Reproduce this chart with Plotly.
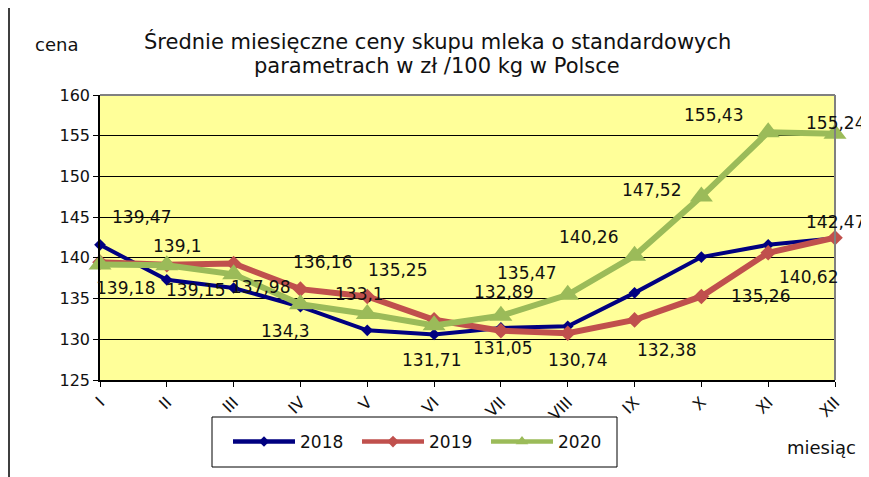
import plotly.graph_objects as go

months = ["I", "II", "III", "IV", "V", "VI", "VII", "VIII", "IX", "X", "XI", "XII"]
y2018 = [141.6, 137.3, 136.3, 134.0, 131.1, 130.6, 131.4, 131.6, 135.7, 140.1, 141.6, 142.4]
y2019 = [139.47, 139.15, 139.3, 136.16, 135.25, 132.4, 131.05, 130.74, 132.38, 135.26, 140.62, 142.47]
y2020 = [139.18, 139.1, 137.98, 134.3, 133.1, 131.71, 132.89, 135.47, 140.26, 147.52, 155.43, 155.24]
show2019 = [True, True, False, True, True, False, True, True, True, True, True, True]
show2020 = [True] * 12
y_ticks = [125, 130, 135, 140, 145, 150, 155, 160]
series_names = ["2018", "2019", "2020"]

# label offsets (px): (xshift, yshift)
off2019 = [(41, 45), (29, -25), (0, 0), (22, 27), (30, 27), (0, 0), (2, -17), (10, -27),
           (32, -30), (59, 0), (40, -24), (0, 16)]
off2020 = [(25, -23), (11, 19), (27, -13), (-15, -27), (-8, 20), (-3, -35), (3, 24), (-41, 22),
           (-46, 19), (-50, 7), (-55, 17), (0, 11)]

FONT = "DejaVu Sans"
TXT = "#111111"
COLORS = ["#000080", "#C0504D", "#9BBB59"]

# page body has an 8px margin: figure sits at (8, 8) on the page
OX, OY = 8, 8
W, H = 869 - OX, 477 - OY
PL, PR, PT, PB = 100, 835, 95, 380  # plot area in page pixels
PW, PH = PR - PL, PB - PT

def px(xp):
    return (xp - PL) / PW

def py(yp):
    return (PB - yp) / PH

def fmt(v):
    return f"{v:g}".replace(".", ",")

fig = go.Figure()
fig.add_trace(go.Scatter(x=months, y=y2018, name="2018", mode="lines+markers",
                         line=dict(color=COLORS[0], width=4),
                         marker=dict(symbol="diamond", size=9, color=COLORS[0]),
                         cliponaxis=False, showlegend=False))
fig.add_trace(go.Scatter(x=months, y=y2019, name="2019", mode="lines+markers",
                         line=dict(color=COLORS[1], width=6),
                         marker=dict(symbol="diamond", size=12, color=COLORS[1]),
                         cliponaxis=False, showlegend=False))
fig.add_trace(go.Scatter(x=months, y=y2020, name="2020", mode="lines+markers",
                         line=dict(color=COLORS[2], width=6),
                         marker=dict(symbol="triangle-up", size=20, color=COLORS[2]),
                         cliponaxis=False, showlegend=False))

# legend entries (smaller symbols, as in the reference legend)
for name, col, sym, sz in zip(series_names, COLORS, ["diamond", "diamond", "triangle-up"], [8, 9, 11]):
    fig.add_trace(go.Scatter(x=[None], y=[None], name=name, mode="lines+markers",
                             line=dict(color=col, width=4.5),
                             marker=dict(symbol=sym, size=sz, color=col)))

annotations = []
for vals, mask, offs in [(y2019, show2019, off2019), (y2020, show2020, off2020)]:
    for m, v, s, (dx, dy) in zip(months, vals, mask, offs):
        if not s:
            continue
        annotations.append(dict(x=m, y=v, xref="x", yref="y", text=fmt(v), showarrow=False,
                                xshift=dx, yshift=dy, xanchor="center", yanchor="middle",
                                font=dict(family=FONT, size=17, color=TXT)))

def page_text(text, xp, yp, size):
    return dict(x=px(xp), y=py(yp), xref="paper", yref="paper", text=text, showarrow=False,
                xanchor="center", yanchor="middle", font=dict(family=FONT, size=size, color=TXT))

annotations.append(page_text("Średnie miesięczne ceny skupu mleka o standardowych", 437, 41, 21))
annotations.append(page_text("parametrach w zł /100 kg w Polsce", 437, 66, 21))
annotations.append(page_text("cena", 56, 45, 18))
annotations.append(page_text("miesiąc", 821, 447, 18))

fig.update_layout(
    width=W, height=H,
    margin=dict(l=PL - OX, r=869 - PR, t=PT - OY, b=477 - PB, autoexpand=False),
    paper_bgcolor="white",
    plot_bgcolor="#FFFF99",
    font=dict(family=FONT, color=TXT),
    showlegend=True,
    legend=dict(orientation="h", x=px(228), y=py(442),
                xanchor="left", yanchor="middle",
                borderwidth=0, bgcolor="rgba(0,0,0,0)",
                font=dict(family=FONT, size=17, color=TXT),
                itemwidth=62, entrywidth=52, entrywidthmode="pixels"),
    annotations=annotations,
    shapes=[
        dict(type="line", xref="paper", yref="paper", x0=0, x1=1, y0=1, y1=1,
             line=dict(color="#808080", width=2)),
        dict(type="line", xref="paper", yref="paper", x0=1, x1=1, y0=0, y1=1,
             line=dict(color="#808080", width=2)),
        # outer chart frame
        dict(type="rect", xref="paper", yref="paper",
             x0=px(9), x1=px(900), y0=py(520), y1=py(7),
             line=dict(color="black", width=1.5), fillcolor="rgba(0,0,0,0)"),
        # legend frame
        dict(type="rect", xref="paper", yref="paper",
             x0=px(212), x1=px(617), y0=py(467), y1=py(417),
             line=dict(color="black", width=1), fillcolor="rgba(0,0,0,0)"),
    ],
)

fig.update_xaxes(type="category", range=[0, 11], showgrid=False,
                 showline=True, linecolor="black", linewidth=1.5,
                 ticks="outside", ticklen=5, tickcolor="black", tickangle=-45,
                 tickfont=dict(family=FONT, size=16, color=TXT))
fig.update_yaxes(range=[125, 160], tickvals=y_ticks, showgrid=True, gridcolor="black", gridwidth=1,
                 showline=True, linecolor="black", linewidth=1.5, zeroline=False,
                 ticks="outside", ticklen=5, tickcolor="black",
                 tickfont=dict(family=FONT, size=16, color=TXT))

fig.write_html("out.html")
